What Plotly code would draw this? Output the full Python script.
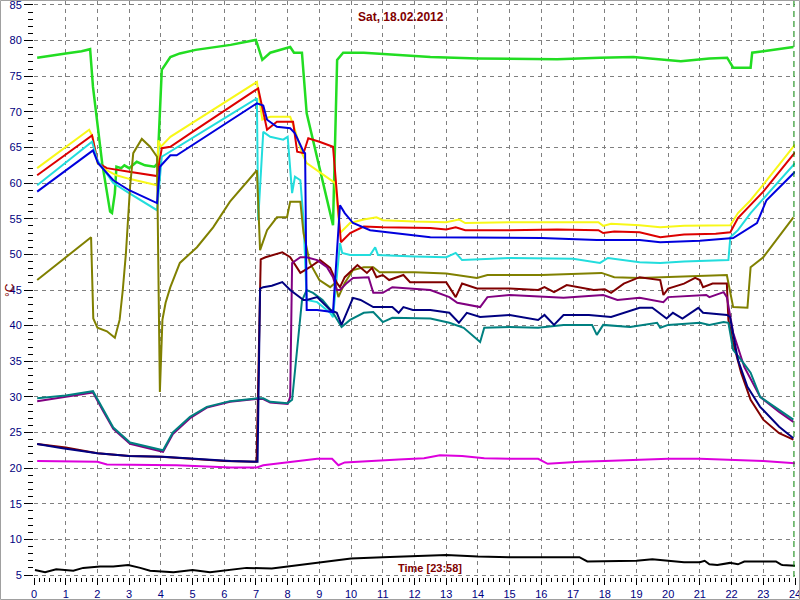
import plotly.graph_objects as go

# ---------------- data (hours, degC) ----------------
green_t = [0.1, 0.5, 1.0, 1.5, 1.77, 1.86, 2.0, 2.15, 2.4, 2.46, 2.55, 2.6, 2.75, 2.85, 3.0, 3.24, 3.5, 3.8, 3.9, 4.03,
           4.3, 4.6, 5.1, 6.2, 7.0, 7.2, 7.45, 8.08, 8.2, 8.45, 8.6, 9.43, 9.56, 9.75, 10.4, 12.5, 14.0, 15.5, 16.5, 17.85,
           18.9, 20.4, 21.3, 21.86, 22.05, 22.6, 22.65, 23.0, 23.5, 23.95]
green_v = [77.6, 77.9, 78.2, 78.5, 78.8, 73.5, 67.9, 62.8, 56.0, 55.8, 58.6, 62.3, 62.1, 62.5, 62.1, 63.0, 62.5, 62.3, 62.8, 75.9,
           77.7, 78.2, 78.7, 79.4, 80.1, 77.3, 78.3, 79.1, 78.3, 78.3, 69.8, 54.1, 77.3, 78.3, 78.3, 77.7, 77.5, 77.5, 77.4, 77.6,
           77.7, 77.1, 77.5, 77.6, 76.2, 76.2, 78.3, 78.5, 78.8, 79.1]

yellow_t = [0.1, 0.5, 1.0, 1.5, 1.74, 1.85, 2.0, 2.3, 2.6, 3.0, 3.5, 3.88, 3.92, 4.0, 4.3, 5.0, 6.0, 7.03, 7.2, 7.45,
            8.08, 8.2, 8.45, 8.6, 9.5, 9.65, 9.97, 10.4, 10.8, 11.0, 12.0, 13.0, 13.4, 13.6, 15.0, 16.5, 17.8, 17.95, 18.2, 19.1,
            19.75, 20.5, 21.96, 22.2, 22.6, 23.0, 24.0]
yellow_v = [62.1, 63.4, 65.1, 66.7, 67.5, 66.5, 62.8, 61.8, 61.1, 60.6, 60.1, 59.7, 66.0, 65.1, 66.5, 68.5, 71.3, 74.2, 68.9, 69.3,
            69.3, 67.9, 64.2, 62.8, 60.0, 53.0, 54.4, 54.9, 55.2, 54.8, 54.6, 54.5, 54.9, 54.4, 54.5, 54.5, 54.5, 54.0, 54.3, 54.1,
            53.8, 54.0, 54.1, 55.8, 57.6, 59.8, 65.4]

red_t = [0.1, 0.5, 1.0, 1.5, 1.83, 2.02, 2.3, 3.0, 3.88, 4.03, 4.3, 5.0, 6.0, 7.07, 7.35, 7.66, 8.17, 8.3, 8.5, 8.65,
         9.0, 9.43, 9.68, 9.97, 10.4, 11.0, 12.5, 13.0, 13.3, 13.6, 15.0, 16.5, 17.8, 17.95, 18.3, 19.1, 19.75, 20.5, 21.5, 21.96,
         22.2, 23.0, 24.0]
red_v = [61.1, 62.4, 64.0, 65.6, 66.7, 62.8, 62.1, 61.6, 61.0, 64.9, 65.1, 67.2, 70.1, 73.3, 67.5, 68.6, 68.6, 64.4, 64.2, 66.3,
         65.8, 65.1, 51.7, 53.0, 53.9, 53.8, 53.7, 53.5, 53.8, 53.4, 53.4, 53.5, 53.4, 53.0, 53.2, 53.1, 52.4, 52.8, 52.9, 53.1,
         55.1, 58.8, 64.3]

cyan_t = [0.1, 1.0, 1.83, 2.0, 2.5, 3.0, 3.5, 3.88, 4.03, 5.0, 6.0, 7.03, 7.07, 7.23, 7.45, 7.86, 8.0, 8.14, 8.23, 8.4,
          8.5, 8.6, 8.93, 9.34, 9.43, 9.65, 9.72, 9.97, 10.6, 10.76, 10.85, 12.0, 13.0, 13.3, 13.5, 15.0, 17.0, 17.85, 18.1, 19.1,
          19.75, 20.5, 21.9, 21.96, 22.2, 22.6, 23.3, 24.0]
cyan_v = [59.7, 62.9, 65.8, 63.2, 60.0, 58.6, 57.3, 56.2, 63.7, 66.4, 69.1, 71.9, 54.8, 67.2, 66.5, 66.1, 66.5, 58.6, 60.9, 60.4,
          54.8, 43.6, 43.3, 41.8, 41.2, 51.6, 50.2, 49.9, 49.9, 51.0, 49.9, 49.7, 49.6, 50.2, 49.2, 49.5, 49.4, 48.8, 49.5, 48.9,
          48.8, 49.0, 49.2, 52.4, 53.4, 55.8, 59.3, 62.8]

blue_t = [0.1, 1.0, 1.86, 2.02, 2.5, 3.0, 3.5, 3.88, 3.97, 4.3, 4.5, 5.5, 6.5, 7.03, 7.23, 7.35, 7.66, 8.08, 8.23, 8.5,
          8.55, 8.6, 8.93, 9.43, 9.65, 9.8, 10.06, 10.6, 12.5, 14.4, 16.0, 17.75, 19.1, 19.75, 21.0, 22.05, 22.8, 23.1, 24.0]
blue_v = [58.8, 61.8, 64.6, 62.8, 60.4, 59.0, 58.0, 57.2, 62.3, 63.9, 63.9, 66.8, 69.7, 71.2, 70.9, 68.9, 67.9, 67.7, 67.0, 64.4,
          64.2, 42.2, 42.2, 41.9, 56.9, 55.8, 54.4, 53.4, 52.4, 52.3, 52.3, 52.0, 52.0, 51.7, 51.9, 52.3, 54.4, 57.6, 61.6]

olive_t = [0.1, 0.5, 1.0, 1.5, 1.8, 1.87, 2.0, 2.3, 2.55, 2.7, 2.8, 2.9, 3.03, 3.13, 3.4, 3.66, 3.88, 3.93, 3.97, 4.05,
           4.15, 4.3, 4.6, 5.14, 5.65, 6.18, 7.03, 7.13, 7.35, 7.66, 7.98, 8.08, 8.4, 8.5, 8.7, 9.0, 9.34, 9.5, 9.6, 9.8,
           10.06, 10.4, 10.7, 10.9, 12.0, 13.0, 13.97, 14.3, 16.0, 17.9, 18.3, 19.1, 21.85, 22.05, 22.5, 22.6, 23.0, 23.95]
olive_v = [46.4, 47.8, 49.6, 51.3, 52.4, 41.0, 39.7, 39.2, 38.3, 40.8, 45.0, 50.2, 59.5, 64.2, 66.2, 65.1, 63.7, 45.0, 30.7, 40.8,
           43.2, 45.4, 48.8, 51.0, 53.8, 57.4, 61.8, 50.6, 53.4, 55.2, 55.2, 57.4, 57.4, 53.0, 48.8, 46.4, 45.4, 46.0, 44.0, 46.0,
           47.8, 48.2, 48.2, 47.5, 47.5, 47.3, 46.7, 47.1, 47.1, 47.4, 46.8, 46.7, 47.1, 42.6, 42.5, 48.2, 49.6, 55.2]

maroon_t = [0.1, 1.0, 2.0, 3.0, 4.0, 5.0, 6.0, 7.02, 7.15, 7.3, 7.55, 7.83, 8.08, 8.4, 8.7, 9.02, 9.34, 9.55, 9.65, 9.8,
            10.2, 10.5, 10.66, 10.8, 11.0, 11.2, 11.65, 11.86, 12.5, 13.0, 13.3, 13.5, 13.97, 15.0, 15.9, 16.1, 16.4, 16.8, 17.65, 18.0,
            18.2, 18.6, 19.1, 19.75, 19.85, 20.0, 20.5, 20.85, 21.0, 21.1, 21.4, 21.85, 21.9, 22.05, 22.3, 22.6, 23.0, 23.5, 23.95]
maroon_v = [23.4, 22.9, 22.1, 21.7, 21.6, 21.3, 21.0, 20.9, 49.3, 49.6, 49.9, 50.3, 49.6, 47.4, 48.2, 49.2, 48.1, 46.0, 45.4, 46.8,
            48.5, 47.4, 48.1, 46.8, 47.1, 46.4, 47.1, 46.1, 46.1, 46.1, 44.0, 45.9, 45.2, 45.2, 45.0, 45.4, 44.7, 45.7, 45.0, 45.1,
            44.6, 45.9, 46.8, 46.4, 44.3, 45.2, 45.9, 46.7, 46.4, 45.4, 45.9, 45.9, 40.8, 37.6, 33.4, 29.6, 26.8, 24.9, 24.0]

navy_t = [0.1, 0.9, 2.0, 3.0, 4.07, 5.14, 6.2, 7.05, 7.13, 7.23, 7.5, 7.83, 8.08, 8.5, 8.6, 8.93, 9.34, 9.55, 9.7, 10.06,
          10.3, 10.7, 11.3, 11.5, 11.65, 11.95, 12.5, 13.1, 13.4, 13.65, 14.07, 15.0, 15.9, 16.1, 16.4, 16.7, 17.5, 18.2, 19.1, 19.5,
          19.95, 20.15, 20.45, 20.95, 21.1, 21.86, 21.95, 22.2, 22.5, 22.9, 23.5, 23.95]
navy_v = [23.4, 22.8, 22.1, 21.7, 21.6, 21.3, 21.0, 20.9, 45.2, 45.4, 45.6, 46.1, 45.0, 43.6, 43.6, 44.0, 42.2, 41.8, 40.1, 43.9,
          43.6, 42.6, 42.6, 41.8, 42.6, 42.2, 42.2, 41.8, 40.4, 41.8, 41.2, 41.5, 40.8, 41.5, 40.1, 41.5, 41.5, 41.2, 42.5, 42.5,
          41.0, 41.8, 41.0, 42.5, 41.8, 41.5, 41.2, 35.2, 31.4, 28.6, 25.8, 24.2]

purple_t = [0.1, 1.0, 1.86, 2.18, 2.5, 3.03, 3.5, 4.07, 4.38, 4.92, 5.45, 6.18, 7.03, 7.23, 7.45, 8.0, 8.08, 8.14, 8.4, 8.6,
            8.93, 9.24, 9.43, 9.55, 9.65, 9.87, 10.06, 10.4, 10.55, 10.7, 11.0, 11.3, 11.95, 12.5, 13.1, 13.35, 14.07, 14.3, 15.0, 16.7,
            17.95, 18.4, 19.1, 19.85, 20.0, 21.2, 21.3, 21.75, 21.85, 22.05, 22.4, 22.9, 23.5, 23.95]
purple_v = [29.4, 30.0, 30.6, 28.0, 25.5, 23.4, 22.9, 22.3, 24.8, 27.0, 28.5, 29.3, 29.7, 29.7, 29.2, 29.0, 30.0, 48.8, 49.6, 49.6,
            49.2, 48.2, 46.8, 45.0, 45.0, 46.0, 46.7, 46.7, 46.8, 44.6, 44.6, 45.4, 45.2, 45.0, 44.0, 43.2, 42.6, 44.0, 44.3, 43.9,
            44.3, 43.6, 43.9, 43.3, 44.0, 44.3, 44.0, 44.7, 44.0, 39.0, 34.2, 30.0, 27.9, 26.5]

teal_t = [0.1, 1.0, 1.86, 2.18, 2.5, 3.03, 3.5, 4.07, 4.38, 4.92, 5.45, 6.18, 7.03, 7.23, 7.45, 8.0, 8.14, 8.3, 8.45, 8.6,
          8.8, 9.1, 9.43, 9.7, 9.97, 10.4, 10.7, 11.0, 11.3, 12.5, 13.1, 13.55, 14.07, 14.2, 15.0, 15.9, 16.7, 17.6, 17.75, 17.95,
          18.8, 19.65, 19.75, 20.0, 21.0, 21.3, 21.75, 21.9, 22.05, 22.3, 22.6, 22.9, 23.5, 23.95]
teal_v = [29.8, 30.2, 30.8, 28.2, 25.7, 23.6, 23.1, 22.5, 25.0, 27.2, 28.6, 29.4, 29.8, 29.8, 29.3, 29.1, 29.6, 37.0, 43.5, 45.0,
          44.6, 43.6, 41.8, 39.8, 40.8, 41.8, 41.9, 40.5, 41.1, 41.0, 40.4, 39.7, 37.7, 39.7, 39.8, 39.7, 40.1, 40.1, 38.7, 40.1,
          39.8, 40.4, 39.7, 40.1, 40.4, 40.1, 40.5, 40.4, 36.6, 35.2, 33.4, 30.0, 28.2, 26.8]

magenta_t = [0.1, 2.0, 2.3, 4.5, 6.2, 7.03, 7.23, 8.3, 8.93, 9.4, 9.6, 9.8, 10.5, 11.5, 12.3, 12.8, 13.5, 14.2, 15.0, 15.9,
             16.2, 16.5, 17.2, 18.0, 19.0, 20.0, 21.0, 22.0, 23.0, 24.0]
magenta_v = [21.0, 20.9, 20.5, 20.4, 20.1, 20.1, 20.4, 20.9, 21.3, 21.3, 20.4, 20.8, 21.0, 21.2, 21.4, 21.8, 21.7, 21.4, 21.3, 21.3,
             20.6, 20.7, 20.9, 21.0, 21.2, 21.3, 21.3, 21.2, 21.0, 20.7]

black_t = [0.03, 0.35, 0.7, 1.24, 1.55, 2.08, 2.5, 2.97, 3.35, 3.66, 4.4, 5.0, 5.55, 6.1, 6.7, 7.5, 8.0, 8.5, 9.0, 9.5,
           10.0, 11.0, 12.0, 13.0, 14.0, 15.0, 16.3, 17.2, 17.45, 18.4, 19.0, 19.5, 19.95, 20.5, 21.0, 21.15, 21.3, 21.55, 21.95, 22.2,
           22.4, 23.4, 23.55, 23.6, 24.0]
black_v = [5.7, 5.4, 5.8, 5.6, 6.0, 6.2, 6.2, 6.4, 6.0, 5.6, 5.4, 5.7, 5.4, 5.7, 6.0, 5.9, 6.2, 6.4, 6.8, 7.0,
           7.3, 7.5, 7.6, 7.8, 7.6, 7.5, 7.5, 7.5, 6.9, 6.9, 7.0, 7.2, 7.0, 6.8, 6.8, 7.0, 6.5, 6.4, 6.7, 6.5,
           6.9, 6.9, 6.5, 6.4, 6.3]

x_ticks = list(range(0, 25))
title_text = "Sat, 18.02.2012"
time_text = "Time [23:58]"
now_hour = 23 + 58 / 60

series = [
    (green_t, green_v, "#22dd22", 2.5),
    (yellow_t, yellow_v, "#f8f818", 2),
    (red_t, red_v, "#dd0000", 2),
    (cyan_t, cyan_v, "#22dddd", 2),
    (olive_t, olive_v, "#808000", 2),
    (magenta_t, magenta_v, "#dd00dd", 2),
    (black_t, black_v, "#000000", 2),
    (maroon_t, maroon_v, "#800000", 2),
    (purple_t, purple_v, "#800080", 2),
    (teal_t, teal_v, "#008080", 2),
    (navy_t, navy_v, "#000080", 2),
    (blue_t, blue_v, "#0000dd", 2),
]

fig = go.Figure()
for t, v, c, w in series:
    assert len(t) == len(v), c
    fig.add_trace(go.Scatter(x=t, y=v, mode="lines", line=dict(color=c, width=w),
                             showlegend=False, hoverinfo="skip"))

L, R, T, B = 34, 5, 1, 23
W, H = 800, 600
pw, ph = W - L - R, H - T - B

def px(xp):
    return (xp - L) / pw

def py(yp):
    return (H - B - yp) / ph

fig.update_layout(
    width=W, height=H,
    margin=dict(l=L, r=R, t=T, b=B, autoexpand=False),
    paper_bgcolor="white", plot_bgcolor="white",
    font=dict(family="Liberation Sans, Arial, sans-serif", size=11, color="#000080"),
    showlegend=False,
)
fig.update_xaxes(
    range=[0, 24], tickvals=x_ticks, ticktext=[str(v) for v in x_ticks],
    showgrid=True, gridcolor="#808080", gridwidth=1, griddash="4px,4px",
    zeroline=False, showline=False, automargin=False, ticklabeloverflow="allow",
    ticks="outside", ticklen=7, tickcolor="black", tickwidth=1,
    minor=dict(dtick=1 / 6, tick0=0, ticks="outside", ticklen=4, tickcolor="black", showgrid=False),
    tickfont=dict(size=11, color="#000080"),
)
fig.update_yaxes(
    range=[4.72, 85.56], tick0=5, dtick=5,
    showgrid=True, gridcolor="#808080", gridwidth=1, griddash="4px,4px",
    zeroline=False, showline=False, automargin=False, ticklabeloverflow="allow",
    ticks="outside", ticklen=9, tickcolor="black", tickwidth=1,
    minor=dict(dtick=1, tick0=5, ticks="outside", ticklen=5, tickcolor="black", showgrid=False),
    tickfont=dict(size=11, color="#000080"),
)

# current-time marker
fig.add_shape(type="line", xref="x", yref="paper", x0=now_hour, x1=now_hour, y0=0, y1=1,
              line=dict(color="#008000", width=1, dash="6px,4px"))
# outer frame
fig.add_shape(type="rect", xref="paper", yref="paper",
              x0=px(0.5), x1=px(W - 0.5), y0=py(H - 0.5), y1=py(0.5),
              line=dict(color="#a0a0a0", width=1))

fig.add_annotation(text="<b>" + title_text + "</b>", xref="paper", yref="paper",
                   x=px(401), y=py(17), xanchor="center", yanchor="middle", showarrow=False,
                   font=dict(size=12, color="#800000", family="Liberation Sans, Arial, sans-serif"))
fig.add_annotation(text="<b>" + time_text + "</b>", xref="paper", yref="paper",
                   x=px(430), y=py(568), xanchor="center", yanchor="middle", showarrow=False,
                   font=dict(size=11, color="#800000", family="Liberation Sans, Arial, sans-serif"))
fig.add_annotation(text="°C", xref="paper", yref="paper", textangle=-90,
                   x=px(10), y=py(290), xanchor="center", yanchor="middle", showarrow=False,
                   font=dict(size=12, color="#800000", family="Liberation Sans, Arial, sans-serif"))

fig.write_html("out.html", config={"displayModeBar": False},
               post_script="document.body.style.margin='0';document.body.style.overflow='hidden';")
